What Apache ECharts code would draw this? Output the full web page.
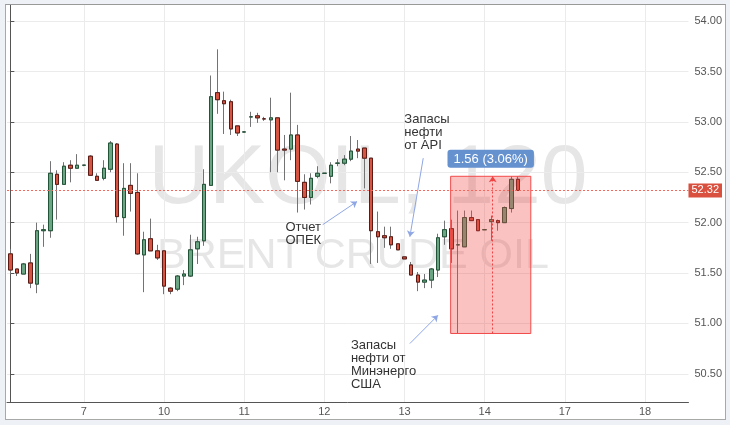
<!DOCTYPE html>
<html>
<head>
<meta charset="utf-8">
<script src="https://cdn.jsdelivr.net/npm/echarts@6/dist/echarts.min.js"></script>
<style>
html, body { margin: 0; padding: 0; background: #eef1f5; }
#chart { position: absolute; left: 5px; top: 4px; width: 719px; height: 414px;
         border: 1px solid #a8a8a8; border-top-color: #999; background: #fff; }
</style>
</head>
<body>
<div id="chart"></div>
<script>
// UKOIL 2h candles, 6 Oct (02:00) .. 14 Oct, axis runs on to 18 Oct
const dayNames = ['6', '7', '10', '11', '12', '13', '14', '17', '18'];
const firstHour = 2;
const slotCount = 102;

const opens = [
  51.69, 51.54, 51.49, 51.60, 51.39, 51.92, 51.92, 52.48, 52.38, 52.57,
  52.54, 52.57, 52.66, 52.46, 52.44, 52.53, 52.78, 52.05, 52.37, 52.30,
  51.68, 51.84, 51.72, 51.72, 51.35, 51.34, 51.47, 51.47, 51.74, 51.82,
  52.37, 53.29, 53.21, 53.20, 52.96, 52.90, 53.05, 53.06, 53.03, 53.02,
  53.04, 52.73, 52.73, 52.87, 52.40, 52.25, 52.46, 52.49, 52.46, 52.59,
  52.59, 52.63, 52.73, 52.74, 52.64, 51.91, 51.87, 51.86, 51.79, 51.66,
  51.58, 51.48, 51.41, 51.43, 51.53, 51.86, 51.94, 51.78, 51.76, 52.05,
  52.03, 51.93, 52.01, 52.02, 52.00, 52.14, 52.43
];
const closes = [
  51.53, 51.50, 51.59, 51.40, 51.92, 51.93, 52.49, 52.38, 52.56, 52.54,
  52.57, 52.57, 52.47, 52.42, 52.54, 52.79, 52.06, 52.34, 52.29, 51.69,
  51.83, 51.72, 51.65, 51.37, 51.32, 51.47, 51.49, 51.73, 51.81, 52.38,
  53.25, 53.22, 53.18, 52.93, 52.89, 52.90, 53.05, 53.04, 53.03, 53.04,
  52.72, 52.72, 52.87, 52.41, 52.25, 52.44, 52.49, 52.49, 52.57, 52.59,
  52.63, 52.71, 52.71, 52.64, 51.92, 51.86, 51.85, 51.78, 51.73, 51.64,
  51.48, 51.41, 51.43, 51.54, 51.85, 51.93, 51.74, 51.78, 52.05, 52.02,
  51.92, 51.93, 52.03, 52.00, 52.15, 52.43, 52.32
];
const lows = [
  51.49, 51.47, 51.49, 51.35, 51.30, 51.76, 51.85, 52.03, 52.38, 52.40,
  52.54, 52.56, 52.47, 52.42, 52.42, 52.50, 52.00, 51.87, 52.11, 51.68,
  51.31, 51.72, 51.63, 51.29, 51.29, 51.32, 51.38, 51.46, 51.59, 51.77,
  52.37, 53.08, 52.88, 52.87, 52.86, 52.90, 52.95, 52.99, 53.01, 52.50,
  52.50, 52.42, 52.62, 52.10, 52.13, 52.18, 52.44, 52.49, 52.39, 52.56,
  52.57, 52.61, 52.64, 52.34, 51.59, 51.60, 51.75, 51.74, 51.73, 51.64,
  51.48, 51.32, 51.35, 51.35, 51.46, 51.78, 51.60, 50.90, 51.76, 52.02,
  51.92, 51.93, 51.82, 51.92, 52.00, 52.10, 52.32
];
const highs = [
  51.74, 51.54, 51.60, 51.69, 52.00, 51.98, 52.61, 52.52, 52.60, 52.62,
  52.68, 52.57, 52.67, 52.49, 52.62, 52.81, 52.79, 52.59, 52.59, 52.49,
  51.91, 52.04, 51.78, 51.72, 51.36, 51.48, 51.53, 51.88, 51.86, 52.53,
  53.46, 53.72, 53.30, 53.22, 52.96, 52.90, 53.10, 53.09, 53.05, 53.24,
  53.04, 52.87, 53.29, 52.97, 52.48, 52.49, 52.56, 52.49, 52.60, 52.63,
  52.67, 52.86, 52.82, 52.74, 52.64, 52.11, 51.96, 51.96, 51.79, 51.66,
  51.61, 51.51, 51.49, 51.55, 51.89, 52.02, 52.03, 52.12, 52.12, 52.12,
  52.03, 51.93, 52.07, 52.03, 52.16, 52.46, 52.46
];

const yTicks = [50.5, 51, 51.5, 52, 52.5, 53, 53.5, 54];
const lastPrice = 52.32;

// price range tool (slot positions on the hidden value x axis)
const rangeText = '1.56 (3.06%)';
const rangeLow = 50.90;
const rangeHigh = 52.46;
const rangeSlots = [65.9, 77.9];
const rangeArrowSlot = 72.2;

const notes = ['Отчет\nОПЕК', 'Запасы\nнефти\nот API', 'Запасы\nнефти от\nМинэнерго\nСША'];
const noteAt = [[41.1, 51.89], [58.9, 52.90], [50.9, 50.59]];
const arrowFrom = [[46.75, 51.98], [61.8, 52.64], [59.8, 50.80]];
const arrowTo = [[51.9, 52.21], [59.8, 51.86], [64.0, 51.08]];

const categories = [];
dayNames.forEach(d => {
  for (let h = 0; h < 24; h += 2) categories.push(d + ' ' + (h < 10 ? '0' : '') + h + ':00');
});
categories.splice(0, firstHour / 2);
categories.length = slotCount;

const isDayStart = (i, v) => v.endsWith(' 00:00');

const candles = opens.map((o, i) => [o, closes[i], lows[i], highs[i]]);
const bodies = opens.map((o, i) => [o, closes[i], Math.min(o, closes[i]), Math.max(o, closes[i])]);

const upColor = '#6ba583';
const downColor = '#d75442';
const font = '"Liberation Sans", Arial, sans-serif';

const chart = echarts.init(document.getElementById('chart'));

chart.setOption({
  animation: false,
  textStyle: { fontFamily: font },
  graphic: [
    { type: 'text', x: 362, y: 175, z: 0, silent: true,
      style: { text: 'UKOIL, 120', font: '84px ' + font, fill: '#e6e6e6', align: 'center', verticalAlign: 'middle' } },
    { type: 'text', x: 347, y: 251, z: 0, silent: true,
      style: { text: 'BRENT CRUDE OIL', font: '43px ' + font, fill: '#e6e6e6', align: 'center', verticalAlign: 'middle' } }
  ],
  grid: { left: 1, right: 33, top: 0, bottom: 17 },
  xAxis: [{
    type: 'category',
    data: categories,
    boundaryGap: true,
    axisLine: { lineStyle: { color: '#555' } },
    axisTick: { interval: isDayStart, alignWithLabel: true, length: 4, lineStyle: { color: '#555' } },
    axisLabel: { interval: isDayStart, formatter: v => v.split(' ')[0], color: '#555', fontSize: 11, margin: 4 },
    splitLine: { show: true, interval: isDayStart, alignWithLabel: true, lineStyle: { color: '#ebebeb' } }
  }, {
    type: 'value',
    min: -0.5,
    max: slotCount - 0.5,
    show: false
  }],
  yAxis: {
    type: 'value',
    position: 'right',
    min: 50.22,
    max: 54.16,
    axisLine: { show: true, lineStyle: { color: '#555' } },
    axisTick: { show: true, length: 4, customValues: yTicks, lineStyle: { color: '#555' } },
    axisLabel: { customValues: yTicks, formatter: v => v.toFixed(2), color: '#555', fontSize: 11, margin: 6 },
    splitLine: { lineStyle: { color: '#ebebeb' } }
  },
  series: [{
    name: 'wicks',
    type: 'candlestick',
    data: candles,
    barWidth: 4,
    silent: true,
    itemStyle: {
      color: upColor, color0: downColor,
      borderColor: '#737375', borderColor0: '#737375', borderColorDoji: '#737375', borderWidth: 1
    }
  }, {
    name: 'UKOIL',
    type: 'candlestick',
    data: bodies,
    barWidth: 4,
    silent: true,
    itemStyle: {
      color: upColor, color0: downColor,
      borderColor: '#225437', borderColor0: '#5b1a13', borderWidth: 1
    }
  }, {
    name: 'last',
    type: 'line',
    xAxisIndex: 1,
    data: [],
    silent: true,
    markLine: {
      silent: true,
      symbol: 'none',
      data: [{ yAxis: lastPrice }],
      lineStyle: { color: '#f5675d', type: [2, 2], width: 1 },
      label: {
        position: 'end', distance: 0, formatter: p => p.value.toFixed(2),
        color: '#fff', backgroundColor: '#d9503f', padding: [2, 3, 1, 3], fontSize: 11
      }
    }
  }, {
    name: 'notes',
    type: 'line',
    xAxisIndex: 1,
    data: [],
    silent: true,
    markArea: {
      z: 3,
      silent: true,
      itemStyle: { color: 'rgba(242, 70, 70, 0.33)', borderColor: '#f24a4a', borderWidth: 1 },
      label: {
        show: true, position: 'top', distance: 8, color: '#fff', fontSize: 13,
        backgroundColor: '#6591cf', borderRadius: 3, padding: [3, 6, 2, 6]
      },
      data: [[
        { name: rangeText, coord: [rangeSlots[0], rangeHigh] },
        { coord: [rangeSlots[1], rangeLow] }
      ]]
    },
    markLine: {
      silent: true,
      symbol: ['none', 'arrow'],
      symbolSize: 6,
      label: { show: false },
      lineStyle: { color: '#8ea6e4', width: 1, type: 'solid' },
      data: arrowFrom.map((a, i) => [{ coord: a }, { coord: arrowTo[i] }]).concat([[
        { coord: [rangeArrowSlot, rangeLow], lineStyle: { color: '#ee4444', type: [2, 2], width: 1 } },
        { coord: [rangeArrowSlot, rangeHigh] }
      ]])
    },
    markPoint: {
      silent: true,
      symbol: 'circle',
      symbolSize: 1,
      itemStyle: { color: 'rgba(0,0,0,0)' },
      label: {
        show: true, position: 'right', distance: 0, align: 'left',
        color: '#333', fontSize: 13, lineHeight: 13, formatter: p => p.name
      },
      data: notes.map((t, i) => ({ name: t, coord: noteAt[i] }))
    }
  }]
});
</script>
</body>
</html>
